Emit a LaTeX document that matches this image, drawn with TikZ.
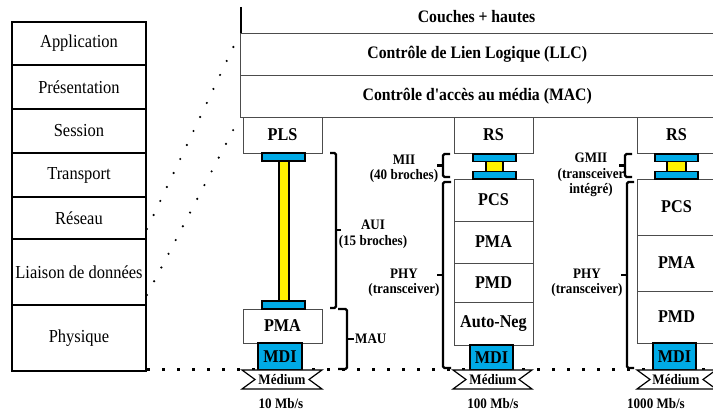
\documentclass[tikz,border=0pt]{standalone}
\usepackage{fontspec}
\setmainfont{Liberation Serif}[FakeStretch=0.9, Ligatures=TeXOff]
\definecolor{cblue}{RGB}{0,170,230}
\newcommand\mybox[7]{\node[#2, anchor=north west, minimum width={#5-#3}, minimum height={#6-#4}] (#1) at (#3,#4) {#7};}
\begin{document}
\begin{tikzpicture}[x=1pt,y=-1pt,
  osi/.style={draw, line width=2.2pt, fill=white, font=\fontsize{18.3}{20}\selectfont, inner sep=0pt, outer sep=0pt},
  gbox/.style={draw=black!70, line width=0.8pt, fill=white, font=\bfseries\fontsize{18}{20}\selectfont, inner sep=0pt, outer sep=0pt},
  topbar/.style={draw=black!70, line width=0.8pt, font=\bfseries\fontsize{17.5}{19}\selectfont, inner sep=0pt, outer sep=0pt},
  mdi/.style={draw, line width=2pt, fill=cblue, font=\bfseries\fontsize{18}{20}\selectfont, inner sep=0pt, outer sep=0pt},
  bluebar/.style={draw, line width=1.6pt, fill=cblue, inner sep=0pt, outer sep=0pt},
  ybar/.style={draw, line width=1.2pt, fill=yellow, inner sep=0pt, outer sep=0pt},
  lbl/.style={font=\bfseries\fontsize{14.5}{15.5}\selectfont, align=center, inner sep=0pt},
  brace/.style={line width=2.4pt, rounded corners=1.5pt},
  diagdots/.style={line width=2.4pt, line cap=round, dash pattern=on 0pt off 15.5pt},
  hdots/.style={line width=3pt, dash pattern=on 3pt off 12pt},
  medium/.style={draw, line width=1.2pt, fill=white},
]
\useasboundingbox (0,0) rectangle (713,411);

% horizontal dotted baseline
\coordinate (hd0) at (147,370);
\coordinate (hd1) at (713,370);
\draw[hdots] (hd0) -- (hd1);

% OSI stack
\mybox{app}{osi}{12}{22}{146}{65}{Application}
\mybox{pres}{osi}{12}{65}{146}{109}{Présentation}
\mybox{sess}{osi}{12}{109}{146}{153}{Session}
\mybox{trans}{osi}{12}{153}{146}{197}{Transport}
\mybox{res}{osi}{12}{197}{146}{239}{Réseau}
\mybox{liais}{osi}{12}{239}{146}{305}{Liaison de données}
\mybox{phys}{osi}{12}{305}{146}{371}{Physique}

% top bars
\mybox{couches}{topbar,draw=none}{240}{0}{713}{33}{\raisebox{-2pt}{Couches + hautes}}
\mybox{llc}{topbar}{240}{33}{714.5}{75}{Contrôle de Lien Logique (LLC)}
\mybox{mac}{topbar}{240}{75}{714.5}{117}{Contrôle d'accès au média (MAC)}
\coordinate (tl0) at (241,7);
\coordinate (tl1) at (241,33);
\draw[line width=2.8pt] (tl0) -- (tl1);

% diagonal dotted lines
\coordinate (d1a) at (147,229);
\coordinate (d1b) at (240,33);
\coordinate (d2a) at (147,295);
\coordinate (d2b) at (240,117);
\draw[diagdots] (d1a) -- (d1b);
\draw[diagdots] (d2a) -- (d2b);

% ---- column 1 : 10 Mb/s
\mybox{pls}{gbox}{243}{117}{322}{153}{PLS}
\mybox{pma1}{gbox}{243}{309}{322}{343}{PMA}
\mybox{yb1}{ybar}{279}{160}{289}{302}{}
\mybox{bb1a}{bluebar}{262}{153}{305}{161}{}
\mybox{bb1b}{bluebar}{262}{301}{305}{309}{}
\mybox{mdi1}{mdi}{258}{343}{302}{370}{MDI}
\draw[medium] (242,370) -- (322,370) -- (309,379.5) -- (322,389) -- (242,389) -- (255,379.5) -- cycle;
\node[lbl] (med1) at (282,380) {Médium};
\node[lbl] (sp1) at (281,404) {10 Mb/s};

% AUI / MAU brackets
\draw[brace] (330,153) -- (336,153) -- (336,308) -- (330,308);
\draw[line width=2.4pt] (336,230) -- (341,230);
\node[lbl] (aui) at (373,234.5) {AUI\\(15 broches)};
\draw[brace] (338,309) -- (347,309) -- (347,369) -- (338,369);
\draw[line width=2.4pt] (347,339) -- (354,339);
\node[lbl, anchor=west] (mau) at (355,339) {MAU};

% ---- column 2 : 100 Mb/s
\mybox{rs2}{gbox}{454}{117}{533}{153}{RS}
\mybox{pcs2}{gbox}{454}{179}{533}{221}{PCS}
\mybox{pma2}{gbox}{454}{221}{533}{263}{PMA}
\mybox{pmd2}{gbox}{454}{263}{533}{302}{PMD}
\mybox{an2}{gbox}{454}{302}{533}{345}{Auto-Neg}
\mybox{yb2}{ybar}{486}{161}{503}{172}{}
\mybox{bb2a}{bluebar}{473}{154}{516}{161.5}{}
\mybox{bb2b}{bluebar}{473}{171.5}{516}{179}{}
\mybox{mdi2}{mdi}{470}{345}{513}{370}{MDI}
\draw[medium] (453,370) -- (532,370) -- (519,379.5) -- (532,389) -- (453,389) -- (466,379.5) -- cycle;
\node[lbl] (med2) at (493,380) {Médium};
\node[lbl] (sp2) at (493,404) {100 Mb/s};

\draw[brace] (450,154) -- (443,154) -- (443,177) -- (450,177);
\draw[line width=2.4pt] (443,165.5) -- (437,165.5);
\node[lbl] (mii) at (404,169) {MII\\(40 broches)};
\draw[brace] (451,182) -- (443,182) -- (443,368) -- (451,368);
\draw[line width=2.4pt] (443,275) -- (437,275);
\node[lbl] (phy2) at (404,283) {PHY\\(transceiver)};

% ---- column 3 : 1000 Mb/s
\mybox{rs3}{gbox}{637}{117}{716}{153}{RS}
\mybox{pcs3}{gbox}{637}{179}{716}{235}{PCS}
\mybox{pma3}{gbox}{637}{235}{716}{291}{PMA}
\mybox{pmd3}{gbox}{637}{291}{716}{343}{PMD}
\mybox{yb3}{ybar}{667}{161}{686}{172}{}
\mybox{bb3a}{bluebar}{655}{154}{698}{161.5}{}
\mybox{bb3b}{bluebar}{655}{171.5}{698}{179}{}
\mybox{mdi3}{mdi}{653}{343}{696}{370}{MDI}
\draw[medium] (637,370) -- (716,370) -- (703,379.5) -- (716,389) -- (637,389) -- (650,379.5) -- cycle;
\node[lbl] (med3) at (676,380) {Médium};
\node[lbl] (sp3) at (656,404) {1000 Mb/s};

\draw[brace] (632,154) -- (625,154) -- (625,177) -- (632,177);
\draw[line width=2.4pt] (625,165.5) -- (619,165.5);
\node[lbl] (gmii) at (591,175) {GMII\\(transceiver\\intégré)};
\draw[brace] (634,182) -- (627,182) -- (627,368) -- (634,368);
\draw[line width=2.4pt] (627,275) -- (621,275);
\node[lbl] (phy3) at (587,283) {PHY\\(transceiver)};
\end{tikzpicture}
\end{document}
